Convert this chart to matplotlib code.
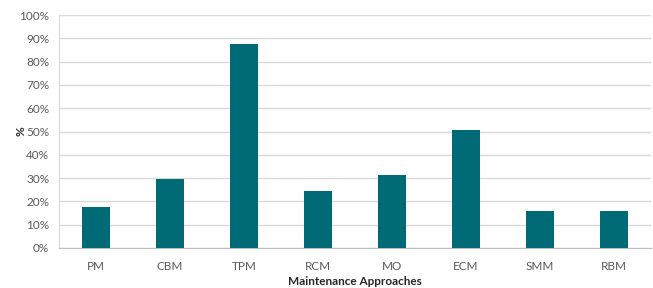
import matplotlib
matplotlib.use("Agg")
import matplotlib.pyplot as plt
from matplotlib.ticker import PercentFormatter

categories = ["PM", "CBM", "TPM", "RCM", "MO", "ECM", "SMM", "RBM"]
values = [17.4, 29.8, 87.7, 24.4, 31.5, 50.8, 15.7, 15.7]
yticks = list(range(0, 101, 10))

plt.rcParams['font.family'] = ['Lato', 'DejaVu Sans']

fig = plt.figure(figsize=(6.53, 2.88), dpi=100)
ax = fig.add_axes([59/653, 1-248/288, (651-59)/653, (248-15)/288])

x = range(len(categories))
ax.bar(x, values, width=0.39, color="#006B77", zorder=3)
ax.set_xlim(-0.5, len(categories) - 0.5)
ax.set_ylim(0, 100)
ax.set_yticks(yticks)
ax.yaxis.set_major_formatter(PercentFormatter(decimals=0))
ax.set_xticks(list(x))
ax.set_xticklabels(categories)
ax.grid(axis='y', color="#D9D9D9", linewidth=1, zorder=0)
for s in ['top', 'right']:
    ax.spines[s].set_visible(False)
ax.spines['left'].set_color("#D9D9D9")
ax.spines['bottom'].set_color("#BFBFBF")
ax.tick_params(axis='both', length=0, labelsize=8.5, labelcolor="#595959", pad=7)
ax.tick_params(axis='x', pad=9)
ax.set_xlabel("Maintenance Approaches", fontsize=8.5, fontweight='bold', color="#262626", labelpad=3)
ax.set_ylabel("%", fontsize=8.5, fontweight='bold', color="#262626", labelpad=-5)

fig.savefig("out.png", dpi=100)
